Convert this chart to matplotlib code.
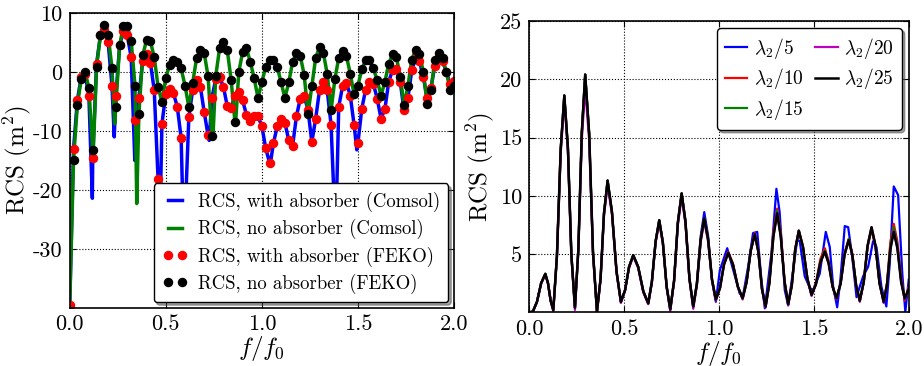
import numpy as np
import matplotlib
matplotlib.use('Agg')
import matplotlib.pyplot as plt

plt.rcParams['font.family'] = 'serif'
plt.rcParams['font.serif'] = ['cmr10', 'DejaVu Serif']
plt.rcParams['mathtext.fontset'] = 'cm'
plt.rcParams['axes.unicode_minus'] = False
plt.rcParams['axes.formatter.use_mathtext'] = True

# ---- left panel: RCS in dB-like scale, FEKO samples every 0.02 f/f0 ----
f_feko_red = np.linspace(0.0, 2.0, 101)
rcs_feko_with = [-39.5, -13.1, -4.8, -0.85, -0.3, -4.1, -14.5, 1.4, 6.2, 7.2, 5.1, -2.3, -4.1,
                 4.5, 6.9, 6.2, 2.5, -8.1, -4.4, 1.9, 3.0, 1.6, -3.1, -18.2, -8.8, -3.8,
                 -2.8, -3.6, -5.9, -11.2, -25.0, -7.7, -3.0, -1.4, -2.5, -6.8,
                 -10.7, -4.4, -1.2, -0.85, -2.5, -5.8, -6.1, -4.0, -3.4, -4.8,
                 -7.3, -8.3, -7.5, -7.5, -9.2, -12.9, -15.4, -12.1, -9.2, -7.9,
                 -8.6, -11.6, -12.5, -7.5, -4.5, -4.1, -6.4, -11.9, -7.9, -3.1,
                 -1.7, -3.1, -8.9, -25.0, -5.9, -2.4, -1.8, -4.0, -9.0, -12.0,
                 -6.2, -3.0, -1.75, -2.0, -4.5, -7.9, -6.3, -1.7, 0.4, 0.56,
                 -1.7, -6.5, -4.4, 0.3, 2.3, 1.8, -0.85, -4.4, -2.7, 1.1,
                 2.5, 1.8, 0.0, -2.1, -1.6]

f_feko_black = np.linspace(0.02, 2.0, 100)
rcs_feko_no = [-14.9, -5.6, -1.2, 0.0, -2.7, -13.3, 0.85, 6.2, 7.9, 6.3, 0.7, -6.0, 4.6,
               7.8, 7.8, 5.3, -2.4, -7.2, 2.8, 5.4, 5.2, 2.5, -2.5, -5.1, -1.0,
               1.2, 2.0, 1.7, 0.6, -2.3, -5.9, -1.9, 2.3, 3.8, 3.2,
               -0.7, -10.9, -0.7, 4.0, 5.1, 3.7, -1.3, -8.5, 0.0, 3.4,
               4.0, 1.7, -1.1, -4.4, -1.7, 0.85, 2.1, 2.0, 0.85, -1.75,
               -4.4, -1.75, 1.7, 3.3, 2.7, -0.45, -7.1, -2.4, 2.4, 4.2,
               3.2, -0.3, -6.5, -1.2, 2.4, 3.6, 2.7, -0.3, -3.8, -2.3,
               0.45, 2.0, 2.0, 0.6, -1.4, -4.0, -1.7, 1.4, 3.0, 2.5,
               -0.85, -5.6, -2.4, 2.1, 3.8, 3.1, 0.0, -5.4, -3.0, 2.0,
               3.3, 2.3, 0.0, -3.1, -2.4]

# Comsol curves follow the FEKO samples, plus the narrow dips between samples
dip_f_with = [0.118, 0.232, 0.339, 0.466, 0.596, 0.726, 1.043, 1.381, 1.494]
dip_v_with = [-21.4, -11.0, -15.0, -32.0, -32.0, -11.6, -15.8, -32.0, -13.2]
dip_f_no = [0.0, 0.122, 0.234, 0.349, 0.745, 0.863]
dip_v_no = [-40.0, -14.0, -8.8, -22.3, -11.4, -8.8]

# ---- right panel: RCS in m^2 for different mesh sizes ----
f_mesh = [0.000, 0.020, 0.042, 0.064, 0.086, 0.100, 0.114, 0.128, 0.147, 0.167, 0.186, 0.205,
          0.223, 0.242, 0.260, 0.278, 0.296, 0.317, 0.337, 0.358, 0.377, 0.395, 0.414, 0.437,
          0.461, 0.484, 0.506, 0.527, 0.549, 0.575, 0.602, 0.628, 0.647, 0.667, 0.686, 0.705,
          0.725, 0.744, 0.764, 0.784, 0.804, 0.824, 0.845, 0.865, 0.884, 0.904, 0.923, 0.943,
          0.964, 0.984, 1.006, 1.027, 1.049, 1.074, 1.100, 1.125, 1.146, 1.168, 1.189, 1.208,
          1.227, 1.246, 1.266, 1.287, 1.307, 1.326, 1.346, 1.365, 1.384, 1.402, 1.421, 1.443,
          1.466, 1.488, 1.511, 1.535, 1.558, 1.578, 1.599, 1.619, 1.641, 1.662, 1.684, 1.703,
          1.723, 1.742, 1.763, 1.783, 1.804, 1.825, 1.846, 1.868, 1.886, 1.903, 1.921, 1.940,
          1.960, 1.979, 2.000]
rcs_25 = [0.0, 0.05, 0.9, 2.5, 3.3, 2.5, 1.0, 0.2, 4.8, 14.0, 18.6, 14.1,
          5.0, 0.4, 5.4, 15.4, 20.4, 15.3, 5.2, 0.06, 2.9, 8.5, 11.3, 8.6,
          3.5, 0.9, 1.9, 3.9, 4.9, 3.9, 1.8, 0.77, 2.6, 6.1, 7.9, 6.0,
          2.2, 0.26, 2.7, 7.7, 10.2, 7.8, 2.9, 0.5, 2.4, 6.2, 8.06, 6.3,
          2.8, 1.1, 2.1, 4.1, 5.1, 4.1, 2.2, 1.2, 2.6, 5.3, 6.7, 5.2,
          2.0, 0.5, 2.5, 6.5, 8.5, 6.5, 2.6, 0.7, 2.3, 5.4, 7.0, 5.6,
          2.9, 1.5, 2.4, 4.3, 5.2, 4.2, 2.2, 1.2, 2.45, 4.95, 6.2, 4.9,
          2.3, 1.0, 2.6, 5.7, 7.3, 5.7, 2.5, 0.9, 2.4, 5.4, 6.9, 5.5,
          2.6, 1.2, 2.0]
rcs_20 = [0.0, 0.05, 0.9, 2.5, 3.2, 2.5, 1.0, 0.1, 4.7, 13.6, 18.2, 13.8,
          4.9, 0.2, 5.3, 14.8, 19.2, 14.7, 5.0, 0.0, 2.8, 8.3, 10.9, 8.4,
          3.4, 0.8, 1.9, 3.8, 4.8, 3.8, 1.7, 0.7, 2.5, 6.0, 7.7, 5.9,
          2.1, 0.1, 2.6, 7.5, 9.9, 7.6, 2.8, 0.3, 2.3, 6.0, 7.8, 6.1,
          2.7, 1.0, 2.1, 4.1, 5.1, 4.1, 2.2, 1.1, 2.6, 5.3, 6.7, 5.2,
          2.0, 0.4, 2.5, 6.5, 8.5, 6.5, 2.6, 0.6, 2.3, 5.4, 7.0, 5.6,
          2.9, 1.4, 2.4, 4.3, 5.2, 4.2, 2.2, 1.1, 2.45, 4.95, 6.2, 4.9,
          2.3, 0.9, 2.6, 5.7, 7.3, 5.7, 2.5, 0.8, 2.4, 5.4, 7.0, 5.6,
          2.6, 1.1, 2.0]
rcs_15 = [0.0, 0.05, 0.9, 2.5, 3.3, 2.5, 1.0, 0.2, 4.8, 14.0, 18.6, 14.1,
          5.0, 0.4, 5.4, 15.4, 20.4, 15.3, 5.2, 0.06, 2.9, 8.5, 11.3, 8.6,
          3.5, 0.9, 1.9, 3.9, 4.9, 3.9, 1.8, 0.77, 2.6, 6.1, 7.9, 6.0,
          2.2, 0.26, 2.7, 7.7, 10.2, 7.8, 2.9, 0.5, 2.4, 6.2, 8.06, 6.3,
          2.8, 1.1, 2.1, 4.1, 5.1, 4.1, 2.2, 1.2, 2.6, 5.3, 6.7, 5.2,
          2.0, 0.5, 2.5, 6.6, 8.7, 6.6, 2.6, 0.7, 2.3, 5.4, 7.0, 5.6,
          2.9, 1.5, 2.4, 4.4, 5.3, 4.3, 2.2, 1.2, 2.45, 5.0, 6.3, 4.9,
          2.3, 1.0, 2.6, 5.7, 7.2, 5.7, 2.5, 0.9, 2.5, 5.7, 7.3, 5.8,
          2.7, 1.1, 2.1]
rcs_10 = [0.0, 0.05, 0.9, 2.5, 3.3, 2.5, 1.0, 0.2, 4.8, 14.0, 18.6, 14.1,
          5.0, 0.4, 5.4, 15.4, 20.4, 15.3, 5.2, 0.06, 2.9, 8.5, 11.3, 8.6,
          3.5, 0.9, 1.9, 3.9, 4.9, 3.9, 1.8, 0.77, 2.6, 6.1, 7.9, 6.0,
          2.2, 0.26, 2.7, 7.7, 10.2, 7.8, 2.9, 0.5, 2.4, 6.2, 8.1, 6.3,
          2.8, 1.1, 2.1, 4.2, 5.2, 4.2, 2.2, 1.2, 2.6, 5.3, 6.8, 5.2,
          2.0, 0.5, 2.6, 6.9, 8.9, 6.8, 2.7, 0.7, 2.3, 5.4, 7.0, 5.6,
          2.9, 1.5, 2.5, 4.6, 5.5, 4.4, 2.2, 1.2, 2.5, 5.1, 6.3, 5.0,
          2.3, 1.0, 2.6, 5.6, 7.1, 5.6, 2.5, 0.9, 2.6, 6.0, 7.6, 6.1,
          3.0, 1.0, 2.2]
f_mesh5 = [0.000, 0.020, 0.042, 0.064, 0.086, 0.100, 0.114, 0.128, 0.147, 0.167, 0.186, 0.205,
           0.223, 0.242, 0.260, 0.278, 0.296, 0.317, 0.337, 0.358, 0.377, 0.395, 0.414, 0.437,
           0.461, 0.484, 0.506, 0.527, 0.549, 0.575, 0.602, 0.628, 0.647, 0.667, 0.686, 0.705,
           0.725, 0.744, 0.764, 0.784, 0.804, 0.824, 0.845, 0.865, 0.884, 0.904, 0.923, 0.943,
           0.964, 0.984, 1.005, 1.044, 1.076, 1.110, 1.128, 1.154, 1.180, 1.202, 1.224, 1.242,
           1.277, 1.303, 1.320, 1.347, 1.365, 1.394, 1.412, 1.426, 1.452, 1.479, 1.496, 1.531,
           1.563, 1.584, 1.602, 1.623, 1.640, 1.663, 1.681, 1.702, 1.725, 1.742, 1.760, 1.786,
           1.812, 1.830, 1.856, 1.882, 1.900, 1.921, 1.944, 1.966, 1.982, 2.000]
rcs_5 = [0.0, 0.05, 0.9, 2.5, 3.3, 2.5, 1.0, 0.2, 4.8, 14.0, 18.6, 14.1,
         5.0, 0.4, 5.4, 15.4, 20.4, 15.3, 5.2, 0.06, 2.9, 8.5, 11.3, 8.6,
         3.5, 0.9, 1.9, 3.9, 4.9, 3.9, 1.8, 0.77, 2.6, 6.1, 7.9, 6.0,
         2.2, 0.26, 2.7, 7.7, 10.2, 7.8, 2.9, 0.5, 2.5, 6.5, 8.6, 6.6,
         2.7, 0.9, 3.6, 5.5, 3.6, 1.6, 1.5, 3.9, 6.8, 6.9, 2.8, 0.34,
         5.1, 10.6, 8.6, 1.9, 0.6, 3.9, 6.2, 6.1, 3.1, 2.1, 1.9, 3.3,
         6.9, 5.6, 2.2, 0.43, 2.8, 7.4, 7.3, 4.8, 1.3, 2.2, 3.1, 3.9,
         6.1, 5.6, 2.2, 0.5, 4.2, 10.8, 10.06, 3.3, 0.06, 2.8]

xticks = [0.0, 0.5, 1.0, 1.5, 2.0]
xticklabels = ['0.0', '0.5', '1.0', '1.5', '2.0']


def merge(f1, v1, f2, v2):
    f = np.concatenate([np.asarray(f1, float), np.asarray(f2, float)])
    v = np.concatenate([np.asarray(v1, float), np.asarray(v2, float)])
    order = np.argsort(f, kind='stable')
    return f[order], v[order]


fig = plt.figure(figsize=(9.24, 3.66), dpi=100)
ax1 = fig.add_axes([0.0754, 0.1585, 0.416, 0.806])
ax2 = fig.add_axes([0.5725, 0.1467, 0.411, 0.796])

fb, vb = merge(f_feko_red, rcs_feko_with, dip_f_with, dip_v_with)
fg, vg = merge(f_feko_black, rcs_feko_no, dip_f_no, dip_v_no)
ax1.plot(fb, vb, color='#0000ff', lw=2.5, label='RCS, with absorber (Comsol)')
ax1.plot(fg, vg, color='#008000', lw=2.5, label='RCS, no absorber (Comsol)')
ax1.plot(f_feko_red, rcs_feko_with, 'o', color='r', ms=5.8, mec='r',
         label='RCS, with absorber (FEKO)')
ax1.plot(f_feko_black, rcs_feko_no, 'o', color='k', ms=5.8, mec='k',
         label='RCS, no absorber (FEKO)')
ax1.set_xlim(0, 2)
ax1.set_ylim(-40, 10)
ax1.set_yticks([-30, -20, -10, 0, 10])
ax1.set_yticklabels(['-30', '-20', '-10', '0', '10'], fontsize=16)
ax1.set_ylabel(r'RCS $(\mathrm{m}^2)$', fontsize=18, labelpad=0)
ax1.legend(loc='lower right', numpoints=2, fontsize=13.5, shadow=True, fancybox=True,
           framealpha=1, edgecolor='k', borderaxespad=0.3, borderpad=0.45,
           handlelength=1.35, labelspacing=0.38, handletextpad=0.55)

ax2.plot(f_mesh5, rcs_5, color='#0000ff', lw=1.6, label=r'$\lambda_2/5$')
ax2.plot(f_mesh, rcs_10, color='r', lw=1.6, label=r'$\lambda_2/10$')
ax2.plot(f_mesh, rcs_15, color='#008000', lw=1.6, label=r'$\lambda_2/15$')
ax2.plot(f_mesh, rcs_20, color='#bf00bf', lw=1.6, label=r'$\lambda_2/20$')
ax2.plot(f_mesh, rcs_25, color='k', lw=1.8, label=r'$\lambda_2/25$')
ax2.set_xlim(0, 2)
ax2.set_ylim(0, 25)
ax2.set_yticks([5, 10, 15, 20, 25])
ax2.set_yticklabels(['5', '10', '15', '20', '25'], fontsize=16)
ax2.set_ylabel(r'RCS $(\mathrm{m}^2)$', fontsize=18, labelpad=3)
ax2.legend(loc='upper right', ncol=2, fontsize=14, shadow=True, fancybox=True,
           framealpha=1, edgecolor='k', borderaxespad=0.35, borderpad=0.4,
           handlelength=1.15, labelspacing=0.3, handletextpad=0.35,
           columnspacing=0.6)

for ax in (ax1, ax2):
    ax.set_xticks(xticks)
    ax.set_xticklabels(xticklabels, fontsize=16)
    ax.set_xlabel(r'$f/f_0$', fontsize=18, labelpad=0)
    ax.grid(True, color='k', linestyle=':', linewidth=0.8)
    ax.tick_params(direction='in', top=True, right=True, length=4, width=0.8, pad=5)
    for s in ax.spines.values():
        s.set_linewidth(1.2)

fig.savefig('out.png', dpi=100)
